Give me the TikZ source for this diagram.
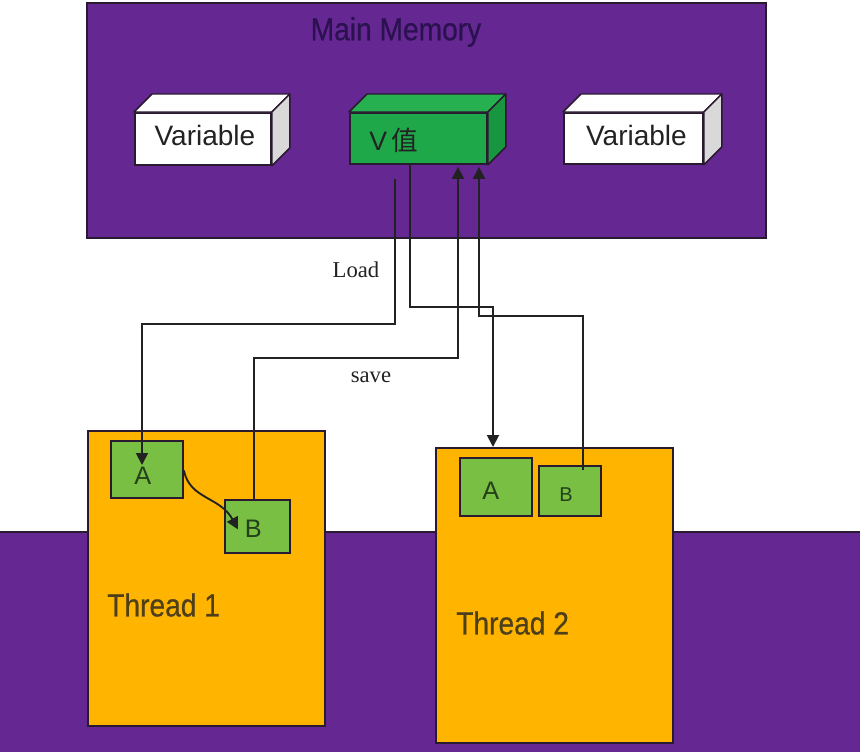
\documentclass[tikz,border=0pt]{standalone}
\usepackage{fontspec}
\setmainfont{Liberation Sans}
\newfontfamily\serifface{Liberation Serif}
\newfontfamily\narrowface[FakeStretch=0.88,FakeBold=0.6]{Liberation Sans}
\newfontfamily\cjkface{Noto Sans CJK SC}
\usetikzlibrary{calc,arrows.meta}

\definecolor{memPurple}{HTML}{652893}
\definecolor{edgeDark}{HTML}{2A1A30}
\definecolor{titleInk}{HTML}{2C1150}
\definecolor{threadOrange}{HTML}{FFB400}
\definecolor{cellGreen}{HTML}{78BF44}
\definecolor{valGreen}{HTML}{1FA84A}
\definecolor{valTop}{HTML}{27B050}
\definecolor{valSide}{HTML}{17963F}
\definecolor{cellInk}{HTML}{24401A}
\definecolor{ink}{HTML}{222222}

\tikzset{
  region/.style={fill=memPurple, draw=edgeDark, line width=1.2pt},
  face/.style={draw=edgeDark, line width=1.4pt, rectangle, inner sep=0pt, anchor=north west},
  thread/.style={face, fill=threadOrange, minimum width=177.75pt, minimum height=221.25pt},
  cell/.style={face, fill=cellGreen},
  wire/.style={draw=ink, line width=1.4pt},
  arr/.style={wire, -{Triangle[width=9pt,length=9pt]}},
}

\begin{document}
\begin{tikzpicture}[x=0.75pt, y=-0.75pt]
\useasboundingbox (0,0) rectangle (860,751);

% background regions
\fill[white] (0,0) rectangle (860,751);
\path[region] (-2,532) rectangle (862,753);
\path[region] (87,3) rectangle (766,238);
\node[text=titleInk, font=\narrowface\fontsize{24}{26}\selectfont] (title) at (396,32) {Main Memory};

% variable boxes (front faces)
\node[face, fill=white, minimum width=102pt, minimum height=39pt] (var1) at (134,112) {};
\node[face, fill=valGreen, minimum width=102.75pt, minimum height=38.25pt] (v) at (349,112) {};
\node[face, fill=white, minimum width=104.25pt, minimum height=38.25pt] (var2) at (563,112) {};

% top and side faces
\foreach \b/\topc/\sidec in {var1/white/gray!30, v/valTop/valSide, var2/white/gray!30}{
  \filldraw[fill=\topc, draw=edgeDark, line width=1.1pt, line join=round]
    (\b.north west) -- ++(18,-18) -- ($(\b.north east)+(18,-18)$) -- (\b.north east) -- cycle;
  \filldraw[fill=\sidec, draw=edgeDark, line width=1.1pt, line join=round]
    (\b.north east) -- ++(18,-18) -- ($(\b.south east)+(18,-18)$) -- (\b.south east) -- cycle;
}

\node[text=ink, font=\fontsize{21}{24}\selectfont] (var1t) at ($(var1.center)+(2,-3)$) {Variable};
\node[text=ink, font=\fontsize{21}{24}\selectfont] (var2t) at ($(var2.center)+(3,-3)$) {Variable};
\node[text=ink, anchor=west, inner sep=0pt, font=\fontsize{20}{24}\selectfont] (vt) at ($(v.west)+(20,2)$) {V\,{\cjkface 值}};

% threads
\node[thread] (t1) at (87,430) {};
\node[thread] (t2) at (435,447) {};
\node[text=ink!80!threadOrange, anchor=west, inner sep=0pt, font=\narrowface\fontsize{24}{26}\selectfont] (t1l) at (107,605) {Thread 1};
\node[text=ink!80!threadOrange, anchor=west, inner sep=0pt, font=\narrowface\fontsize{24}{26}\selectfont] (t2l) at (456,623) {Thread 2};

% working copies
\node[cell, minimum width=54pt, minimum height=42.75pt] (a1) at (110,440) {};
\node[cell, minimum width=48.75pt, minimum height=39.75pt] (b1) at (224,499) {};
\node[cell, minimum width=54pt, minimum height=43.5pt] (a2) at (459,457) {};
\node[cell, minimum width=46.5pt, minimum height=37.5pt] (b2) at (538,465) {};
\node[text=cellInk, font=\fontsize{19}{22}\selectfont] (a1t) at ($(a1.center)+(-4,6)$) {A};
\node[text=cellInk, font=\fontsize{19}{22}\selectfont] (b1t) at ($(b1.center)+(-4,2)$) {B};
\node[text=cellInk, font=\fontsize{19}{22}\selectfont] (a2t) at ($(a2.center)+(-5,4)$) {A};
\node[text=cellInk, font=\fontsize{15}{18}\selectfont] (b2t) at ($(b2.center)+(-4,4)$) {B};

% transfers between main memory and the threads
\draw[arr] ($(v.south west)+(46,14)$) -- ++(0,145) -| ($(a1.north west)+(32,25)$);
\draw[arr] ($(b1.north west)+(30,0)$) -- ++(0,-141) -| ($(v.south west)+(109,2)$);
\draw[arr] ($(v.south west)+(61,0)$) -- ++(0,142) -| ($(t2.north west)+(58,0)$);
\draw[arr] ($(b2.north west)+(45,5)$) -- ++(0,-154) -| ($(v.south west)+(130,2)$);
\draw[arr] ($(a1.east)+(0,1)$) .. controls ($(a1.east)+(6,30)$) and ($(b1.west)+(-4,-30)$) .. ($(b1.west)+(14,3)$);

\node[text=ink, font=\serifface\fontsize{17}{20}\selectfont] (loadl) at (356,270) {Load};
\node[text=ink, font=\serifface\fontsize{17}{20}\selectfont] (savel) at (371,377) {save};
\end{tikzpicture}
\end{document}
